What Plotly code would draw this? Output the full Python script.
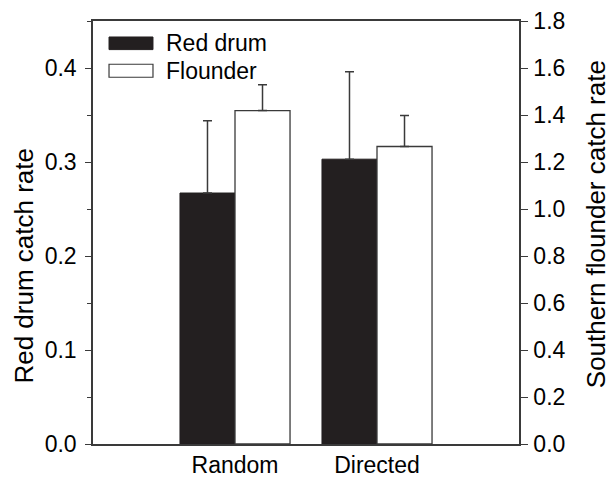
import plotly.graph_objects as go

categories = ["Random", "Directed"]
red_drum = [0.267, 0.303]
red_drum_err = [0.077, 0.093]
flounder = [1.419, 1.266]
flounder_err = [0.110, 0.132]

FONT = "Arial, Liberation Sans, sans-serif"
FS = 23
AX = "#3a3a3a"

fig = go.Figure()
fig.add_trace(go.Bar(
    x=categories, y=red_drum, name="Red drum", offsetgroup="1",
    marker=dict(color="#231f20", line=dict(color="#231f20", width=1)),
    error_y=dict(type="data", array=red_drum_err, arrayminus=[0, 0], symmetric=False,
                 color="#3a3a3a", thickness=1.5, width=4.5),
    yaxis="y", showlegend=False,
))
fig.add_trace(go.Bar(
    x=categories, y=flounder, name="Flounder", offsetgroup="2",
    marker=dict(color="white", line=dict(color="#3a3a3a", width=1.3)),
    error_y=dict(type="data", array=flounder_err, arrayminus=[0, 0], symmetric=False,
                 color="#3a3a3a", thickness=1.5, width=4.5),
    yaxis="y2", showlegend=False,
))

fig.update_layout(
    width=611, height=481,
    margin=dict(l=93, r=92, t=21, b=37, autoexpand=False),
    paper_bgcolor="white", plot_bgcolor="white",
    barmode="group", bargap=0.225, bargroupgap=0,
    font=dict(family=FONT, size=FS, color="black"),
    xaxis=dict(range=[-1, 2], showline=True, linecolor=AX, linewidth=1.5, mirror=True,
               ticks="", showgrid=False, zeroline=False, tickfont=dict(size=FS), automargin=False),
    yaxis=dict(range=[0, 0.45], dtick=0.1, tickformat=".1f", showline=True, linecolor=AX,
               linewidth=1.5, ticks="outside", ticklen=6, tickwidth=1.3, tickcolor=AX,
               ticklabelstandoff=4,
               showgrid=False, zeroline=False, automargin=False,
               minor=dict(dtick=0.05, ticks="outside", ticklen=4, tickcolor=AX, tickwidth=1.3, showgrid=False)),
    yaxis2=dict(range=[0, 1.8], dtick=0.2, tickformat=".1f", overlaying="y", side="right",
                showline=True, linecolor=AX, linewidth=1.5, ticks="outside", ticklen=7,
                ticklabelstandoff=1,
                tickwidth=1.3, tickcolor=AX, showgrid=False, zeroline=False, automargin=False),
    shapes=[
        dict(type="rect", xref="paper", yref="paper", x0=0.0376, x1=0.1408, y0=0.9324, y1=0.9622,
             fillcolor="#231f20", line=dict(color="#231f20", width=1)),
        dict(type="rect", xref="paper", yref="paper", x0=0.0376, x1=0.1408, y0=0.867, y1=0.8977,
             fillcolor="white", line=dict(color="#3a3a3a", width=1.2)),
    ],
    annotations=[
        dict(text="Red drum", xref="paper", yref="paper", x=0.1667, y=0.9473, xanchor="left",
             yanchor="middle", showarrow=False, font=dict(size=FS)),
        dict(text="Flounder", xref="paper", yref="paper", x=0.1667, y=0.8823, xanchor="left",
             yanchor="middle", showarrow=False, font=dict(size=FS)),
        dict(text="Red drum catch rate", xref="paper", yref="paper", x=-0.162, y=0.4217,
             xanchor="center", yanchor="middle", textangle=-90, showarrow=False, font=dict(size=26)),
        dict(text="Southern flounder catch rate", xref="paper", yref="paper", x=1.1796, y=0.5185,
             xanchor="center", yanchor="middle", textangle=-90, showarrow=False, font=dict(size=26)),
    ],
)

fig.write_html("out.html", config={"displayModeBar": False},
               post_script="document.body.style.margin='0';")
